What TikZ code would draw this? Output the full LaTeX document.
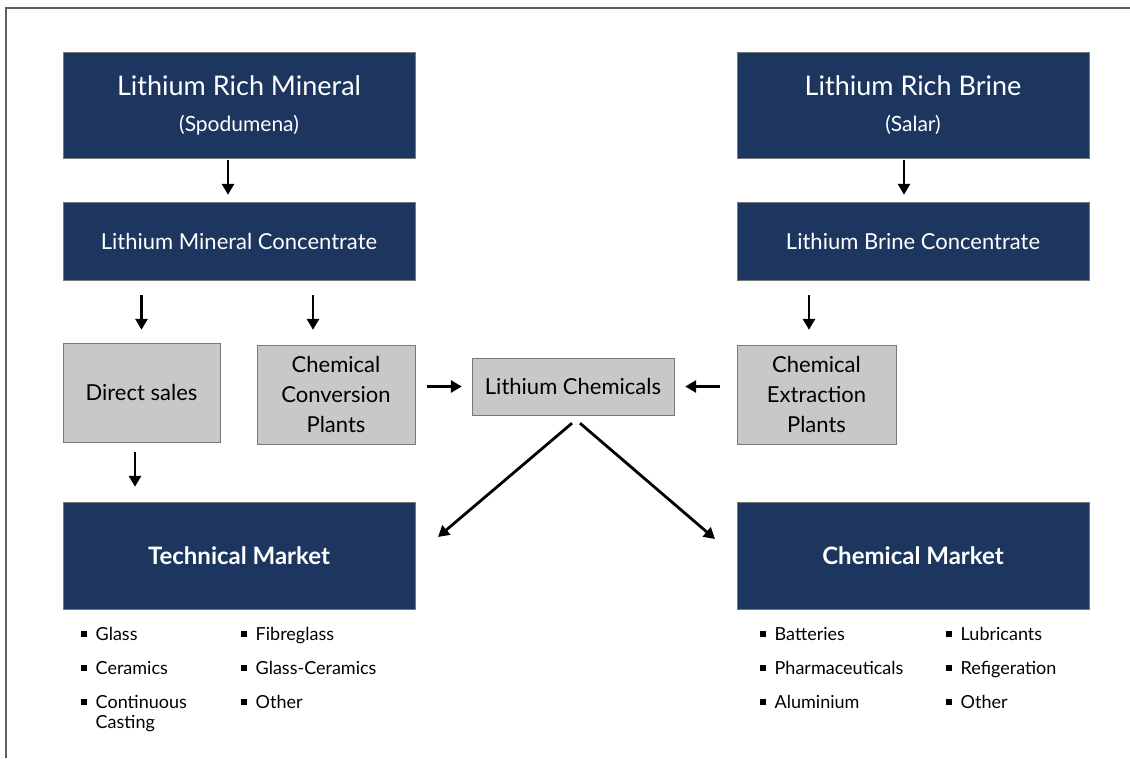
\documentclass[tikz,border=0pt]{standalone}
\usepackage{fontspec}
\setmainfont{Lato}
\usepackage{tikz}
\usetikzlibrary{arrows.meta}
\usetikzlibrary{calc}

\definecolor{navy}{RGB}{28,54,96}
\definecolor{boxgray}{RGB}{200,200,200}
\definecolor{edgegray}{RGB}{120,120,120}
\newcommand{\blt}{\raisebox{3.5pt}{\rule{5.5pt}{5.5pt}}}

\begin{document}
\begin{tikzpicture}[x=1pt, y=-1pt,
		darkbox/.style={draw=edgegray, fill=navy, text=white, align=center, inner sep=0pt},
		greybox/.style={draw=edgegray, fill=boxgray, text=black, align=center, inner sep=0pt, font=\fontsize{22}{30}\selectfont},
		arr/.style={-{Triangle[length=11pt,width=12pt]}, line width=2.8pt},
		listtxt/.style={inner sep=0pt, align=left, font=\fontsize{18}{20}\selectfont}]
			\useasboundingbox (0,0) rectangle (1130,758);
			\draw [edgegray!80!black, line width=1.5pt] (6,758) -- (6,8) -- (1130,8); % marco
			% fila de arriba
			\node [darkbox, minimum width=352pt, minimum height=106pt, font=\fontsize{27}{34}\selectfont] (mineral) at (239,105) {Lithium Rich Mineral\\[2pt]{\fontsize{21}{24}\selectfont (Spodumena)}};
			\node [darkbox, minimum width=352pt, minimum height=106pt, font=\fontsize{27}{34}\selectfont] (brine) at (913,105) {Lithium Rich Brine\\[2pt]{\fontsize{21}{24}\selectfont (Salar)}};
			\node [darkbox, minimum width=352pt, minimum height=78pt, font=\fontsize{22}{26}\selectfont] (minconc) at (239,241) {Lithium Mineral Concentrate};
			\node [darkbox, minimum width=352pt, minimum height=78pt, font=\fontsize{22}{26}\selectfont] (brineconc) at (913,241) {Lithium Brine Concentrate};
			% cajas grises
			\node [greybox, minimum width=157pt, minimum height=99pt] (direct) at (141.5,392.5) {Direct sales};
			\node [greybox, minimum width=158pt, minimum height=99pt] (conversion) at (336,394.5) {Chemical\\Conversion\\Plants};
			\node [greybox, minimum width=202pt, minimum height=57pt] (chemicals) at (573,386.5) {Lithium Chemicals};
			\node [greybox, minimum width=159pt, minimum height=99pt] (extraction) at (816.5,394.5) {Chemical\\Extraction\\Plants};
			% mercados
			\node [darkbox, minimum width=352pt, minimum height=107pt, font=\fontsize{24}{28}\selectfont\bfseries] (technical) at (239,555.5) {Technical Market};
			\node [darkbox, minimum width=352pt, minimum height=107pt, font=\fontsize{24}{28}\selectfont\bfseries] (chemmarket) at (913,555.5) {Chemical Market};
			% listas
			\node [listtxt, anchor=base west] (techA) at (81,640) {\begin{tabular}[t]{@{}l@{\hspace{9pt}}l@{}}\blt & Glass\\[14pt] \blt & Ceramics\\[14pt] \blt & Continuous\\ & Casting\end{tabular}};
			\node [listtxt, anchor=base west] (techB) at (241,640) {\begin{tabular}[t]{@{}l@{\hspace{9pt}}l@{}}\blt & Fibreglass\\[14pt] \blt & Glass-Ceramics\\[14pt] \blt & Other\end{tabular}};
			\node [listtxt, anchor=base west] (chemA) at (760,640) {\begin{tabular}[t]{@{}l@{\hspace{9pt}}l@{}}\blt & Batteries\\[14pt] \blt & Pharmaceuticals\\[14pt] \blt & Aluminium\end{tabular}};
			\node [listtxt, anchor=base west] (chemB) at (946,640) {\begin{tabular}[t]{@{}l@{\hspace{9pt}}l@{}}\blt & Lubricants\\[14pt] \blt & Refigeration\\[14pt] \blt & Other\end{tabular}};
			% flechas
			\draw [arr, shorten <=2pt, shorten >=7pt] ([xshift=-11pt]mineral.south) -- ([xshift=-11pt]minconc.north);
			\draw [arr, shorten <=2pt, shorten >=7pt] ([xshift=-9pt]brine.south) -- ([xshift=-9pt]brineconc.north);
			\draw [arr, shorten <=15pt, shorten >=13pt] (minconc.south -| direct.north) -- (direct.north);
			\draw [arr, shorten <=15pt, shorten >=15pt] ([xshift=-23pt]conversion.north |- minconc.south) -- ([xshift=-23pt]conversion.north);
			\draw [arr, shorten <=15pt, shorten >=15pt] ([xshift=-7.5pt]extraction.north |- brineconc.south) -- ([xshift=-7.5pt]extraction.north);
			\draw [arr, shorten <=10pt, shorten >=15pt] ([xshift=-6.5pt]direct.south) -- ([xshift=-6.5pt]direct.south |- technical.north);
			\draw [arr, shorten <=12pt, shorten >=10pt] (conversion.east |- chemicals.west) -- (chemicals.west);
			\draw [arr, shorten <=17pt, shorten >=11pt] (extraction.west |- chemicals.east) -- (chemicals.east);
			\coordinate (techin) at (438,537);
			\coordinate (chemin) at (715,539);
			\draw [arr] ([xshift=-1pt, yshift=-8pt]chemicals.south) -- (techin); % hacia mercado tecnico
			\draw [arr] ([xshift=7pt, yshift=-8pt]chemicals.south) -- (chemin); % hacia mercado quimico
		\end{tikzpicture}
\end{document}
